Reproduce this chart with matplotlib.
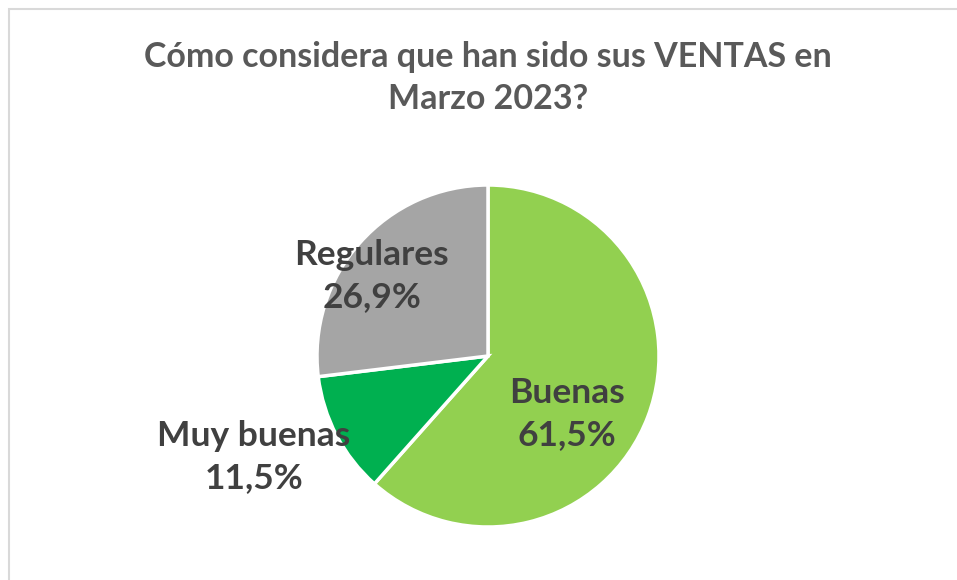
import matplotlib
matplotlib.use("Agg")
import matplotlib.pyplot as plt
from matplotlib.patches import Rectangle

# ── data ──────────────────────────────────────────────────────
categories = ["Buenas", "Muy buenas", "Regulares"]
shares = [61.5, 11.5, 26.9]
share_labels = ["61,5%", "11,5%", "26,9%"]
title = "Cómo considera que han sido sus VENTAS en\nMarzo 2023?"

# ── style ─────────────────────────────────────────────────────
SLICE_COLORS = ["#92D050", "#00B050", "#A5A5A5"]
TITLE_COLOR = "#595959"
LABEL_COLOR = "#404040"
FONT = ["Lato", "DejaVu Sans"]
# label centres, in pie-radius units relative to the centre
LABEL_POS = [(0.46, -0.34), (-1.37, -0.59), (-0.68, 0.47)]

W, H = 957, 580
fig = plt.figure(figsize=(W / 100, H / 100), dpi=100, facecolor="white")

# chart frame (cut off at the right and bottom edges, as in the source)
fig.patches.append(Rectangle((8.5 / W, -0.1), 1.2, 1 - 8.5 / H + 0.1,
                             transform=fig.transFigure, fill=False,
                             edgecolor="#D9D9D9", linewidth=1.5))

cx, cy, r = 488, 356, 171
ax = fig.add_axes([(cx - r) / W, (H - cy - r) / H, 2 * r / W, 2 * r / H])
ax.pie(shares, colors=SLICE_COLORS, startangle=90, counterclock=False,
       radius=1, wedgeprops={"edgecolor": "white", "linewidth": 2.5})
ax.set_xlim(-1, 1)
ax.set_ylim(-1, 1)
ax.set_aspect("auto")
ax.axis("off")

for name, lab, (lx, ly) in zip(categories, share_labels, LABEL_POS):
    ax.text(lx, ly, f"{name}\n{lab}", ha="center", va="center",
            fontsize=25.5, fontweight="bold", color=LABEL_COLOR,
            family=FONT, linespacing=1.38, clip_on=False)

fig.text(0.51, 1 - 78 / H, title, ha="center", va="center",
         fontsize=24.5, fontweight="bold", color=TITLE_COLOR,
         family=FONT, linespacing=1.4)

fig.savefig("out.png", dpi=100, facecolor="white")
